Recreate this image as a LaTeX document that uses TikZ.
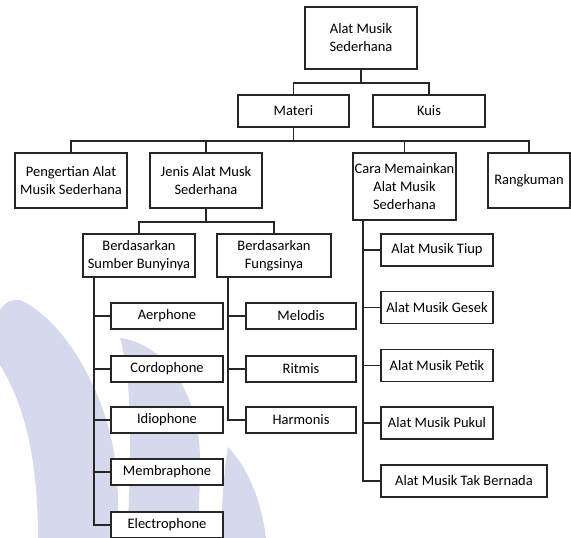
\documentclass[tikz,border=0pt]{standalone}
\usepackage{fontspec}
\setmainfont{Carlito}
\usetikzlibrary{positioning}
\definecolor{wmblue}{RGB}{214,217,236}

\begin{document}
\begin{tikzpicture}[x=1pt, y=-1pt,
  font=\fontsize{14.5}{18}\selectfont,
  box/.style={draw=black!85, line width=1.6pt, fill=white, inner sep=0pt, align=center},
  lnk/.style={draw=black!85, line width=1.6pt},
  wm/.style={fill=wmblue}]
  \useasboundingbox (0,0) rectangle (571,538);
  % faint watermark
  \fill[wm] (20,300) .. controls (60,318) and (100,380) .. (113,447)
    .. controls (120,490) and (118,520) .. (117,538) -- (38,538)
    .. controls (38,470) and (28,410) .. (0,365) -- (0,310)
    .. controls (5,302) and (12,299) .. (20,300) -- cycle;
  \fill[wm] (120,338) .. controls (170,345) and (200,400) .. (200,460)
    .. controls (200,500) and (198,520) .. (197,538) -- (127,538)
    .. controls (132,450) and (132,380) .. (120,338) -- cycle;
  \fill[wm] (228,447) .. controls (250,470) and (262,505) .. (266,538) -- (221,538)
    .. controls (222,500) and (224,470) .. (228,447) -- cycle;
  % top levels
  \node[box, minimum width=112pt, minimum height=62pt] (root) at (361,38)
    {Alat Musik\\Sederhana};
  \node[box, minimum width=111pt, minimum height=32pt] (materi) at (293.5,111) {Materi};
  \node[box, minimum width=112pt, minimum height=32pt] (kuis) at (429,111) {Kuis};
  \node[box, minimum width=112pt, minimum height=55pt] (peng) at (71,180.5)
    {Pengertian Alat\\Musik Sederhana};
  \node[box, minimum width=112pt, minimum height=55pt] (jenis) at (206,180.5)
    {Jenis Alat Musk\\Sederhana};
  \node[box, minimum width=103pt, minimum height=67pt] (cara) at (404.5,186.5)
    {Cara Memainkan\\Alat Musik\\Sederhana};
  \node[box, minimum width=82pt, minimum height=55pt] (rangk) at (529,180.5) {Rangkuman};
  \node[box, minimum width=112pt, minimum height=43pt] (sumber) at (139,255.5)
    {Berdasarkan\\Sumber Bunyinya};
  \node[box, minimum width=114pt, minimum height=43pt] (fungsi) at (274,255.5)
    {Berdasarkan\\Fungsinya};
  \draw[lnk] (root.south) -- ++(0,13) -| (materi.north);
  \draw[lnk] (root.south) -- ++(0,13) -| (kuis.north);
  \foreach \n in {peng,jenis,cara,rangk}
    \draw[lnk] (materi.south) -- ++(0,13) -| (\n.north);
  \foreach \n in {sumber,fungsi}
    \draw[lnk] (jenis.south) -- ++(0,13) -| (\n.north);
  % leaves
  \foreach \t/\y [count=\i] in {Aerphone/316,Cordophone/369,Idiophone/420,
      Membraphone/472,Electrophone/525} {
    \node[box, minimum width=112pt, minimum height=26pt] (s\i) at (167,\y) {\t};
    \draw[lnk] ([xshift=12pt]sumber.south west) |- (s\i.west);}
  \foreach \t/\y [count=\i] in {Melodis/316,Ritmis/369,Harmonis/420} {
    \node[box, minimum width=110pt, minimum height=26pt] (f\i) at (301,\y) {\t};
    \draw[lnk] ([xshift=12pt]fungsi.south west) |- (f\i.west);}
  \foreach \t/\y [count=\i] in {Tiup/250,Gesek/307.5,Petik/365.5,Pukul/423} {
    \node[box, minimum width=112pt, minimum height=32pt] (c\i) at (437,\y) {Alat Musik \t};
    \draw[lnk] ([xshift=11pt]cara.south west) |- (c\i.west);}
  \node[box, minimum width=166pt, minimum height=32pt] (c5) at (464,481)
    {Alat Musik Tak Bernada};
  \draw[lnk] ([xshift=11pt]cara.south west) |- (c5.west);
\end{tikzpicture}
\end{document}
